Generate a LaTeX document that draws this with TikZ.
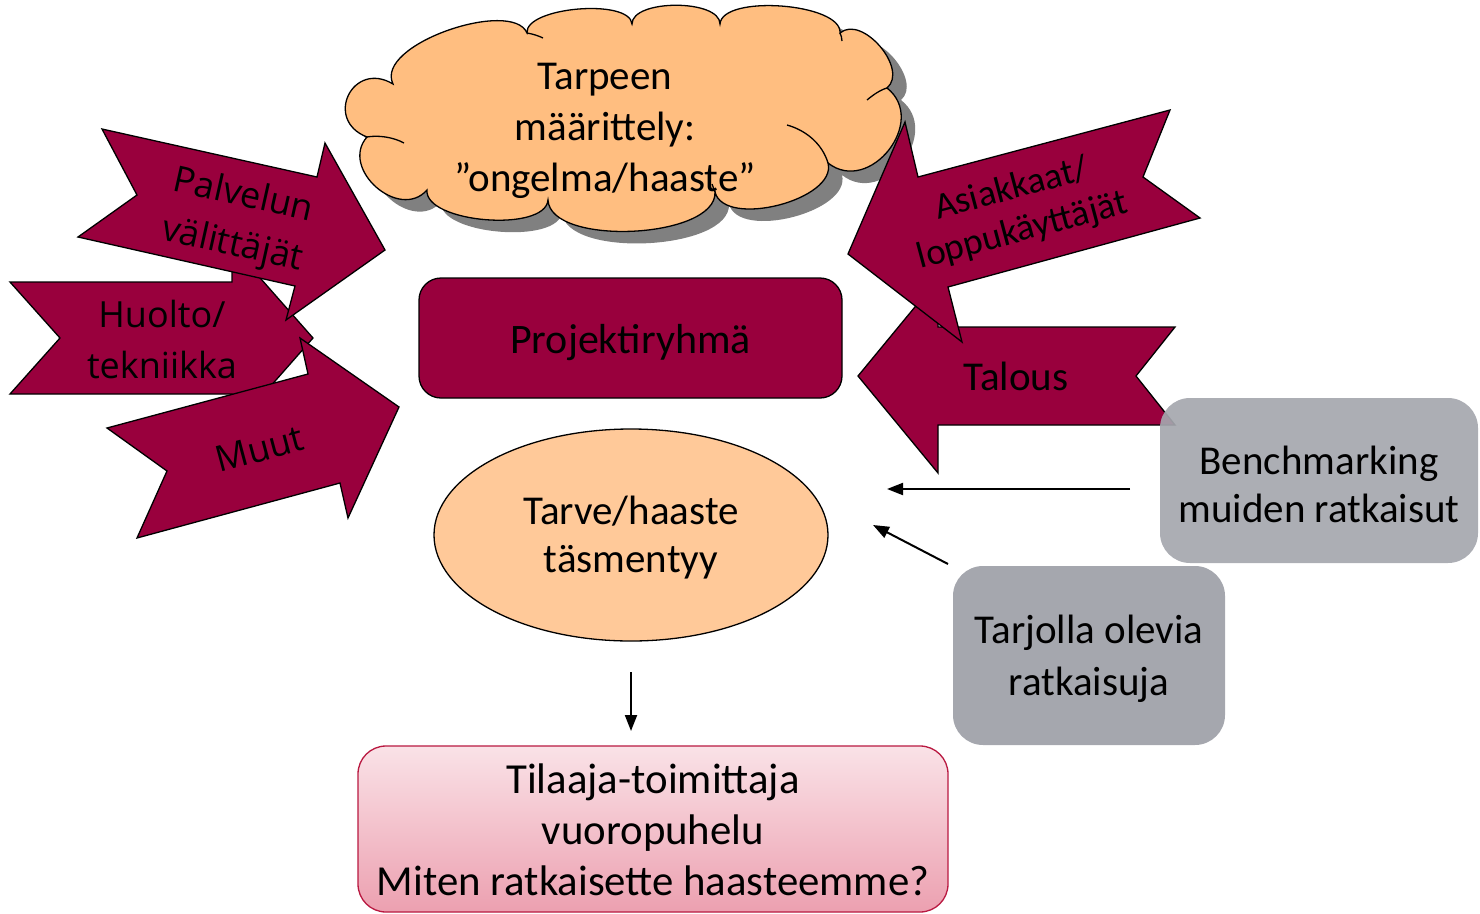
\documentclass[tikz,border=0pt]{standalone}
\usepackage{fontspec}
\setmainfont{Carlito}
\newfontfamily\osans{Open Sans}
\usetikzlibrary{shapes.geometric,arrows.meta,calc}
\definecolor{crim}{RGB}{153,0,61}
\definecolor{cloudfill}{RGB}{255,190,128}
\definecolor{ellfill}{RGB}{255,201,153}
\definecolor{graybox}{RGB}{165,167,174}
\definecolor{shadowgray}{RGB}{128,128,128}
\definecolor{pinktop}{RGB}{250,226,231}
\definecolor{pinkbot}{RGB}{236,160,176}
\definecolor{pinkborder}{RGB}{185,25,65}
% text whose first baseline sits at the node centre, raised by #1
\newcommand\bltext[2]{\raisebox{#1}[0pt][0pt]{\begin{tabular}[t]{@{}c@{}}#2\end{tabular}}}
\begin{document}
\begin{tikzpicture}[x=1pt,y=-1pt,
  arrowshape/.style={fill=crim,draw=black,line width=1.3pt,line join=miter},
  lbl/.style={font=\osans\fontsize{36}{50}\selectfont,inner sep=0pt,text=black},
  rlbl/.style={font=\fontsize{37}{43}\selectfont,inner sep=0pt,text=black},
  big/.style={font=\fontsize{41}{51}\selectfont,inner sep=0pt,text=black},
  gbox/.style={fill=graybox,rounded corners=30pt,inner sep=0pt},
  conn/.style={draw=black,line width=2pt,-{Triangle[length=16pt,width=12pt]}},
  cloudline/.style={draw=black,line width=1.3pt}]
\useasboundingbox (0,0) rectangle (1480,913);

% cloud
\coordinate (J1) at (393,84);
\coordinate (J2) at (527,33);
\coordinate (J3) at (632,24);
\coordinate (J4) at (720,24);
\coordinate (J5) at (840,33);
\coordinate (J6) at (887,88);
\coordinate (J7) at (828,163);
\coordinate (J8) at (715,192);
\coordinate (J9) at (548,200);
\coordinate (J10) at (427,190);
\coordinate (J11) at (367,137);
\path[cloudline,fill=cloudfill,
  preaction={fill=shadowgray,transform canvas={shift={(14pt,-12pt)}}}]
  (J1) .. controls ($(J1)!44pt!95:(J2)$) and ($(J2)!38pt!-88:(J1)$) .. (J2)
       .. controls ($(J2)!26pt!90:(J3)$) and ($(J3)!26pt!-90:(J2)$) .. (J3)
       .. controls ($(J3)!25pt!90:(J4)$) and ($(J4)!25pt!-90:(J3)$) .. (J4)
       .. controls ($(J4)!30pt!90:(J5)$) and ($(J5)!30pt!-90:(J4)$) .. (J5)
       .. controls ($(J5)!29pt!90:(J6)$) and ($(J6)!29pt!-90:(J5)$) .. (J6)
       .. controls ($(J6)!53pt!90:(J7)$) and ($(J7)!53pt!-90:(J6)$) .. (J7)
       .. controls ($(J7)!38pt!90:(J8)$) and ($(J8)!38pt!-90:(J7)$) .. (J8)
       .. controls ($(J8)!47pt!90:(J9)$) and ($(J9)!47pt!-90:(J8)$) .. (J9)
       .. controls ($(J9)!33pt!90:(J10)$) and ($(J10)!33pt!-90:(J9)$) .. (J10)
       .. controls ($(J10)!42pt!90:(J11)$) and ($(J11)!42pt!-90:(J10)$) .. (J11)
       .. controls ($(J11)!47pt!95:(J1)$) and ($(J1)!47pt!-95:(J11)$) .. (J1) -- cycle;
\draw[cloudline] (J11) .. controls (378,135) and (393,137) .. (404,143);
\draw[cloudline] (J2) .. controls (533,34) and (539,36) .. (543,38);
\draw[cloudline] (J5) .. controls (841,35) and (842,38) .. (842,41);
\draw[cloudline] (J6) .. controls (880,90) and (873,95) .. (867,100);
\draw[cloudline] (787,125) .. controls (805,130) and (822,143) .. (J7);
\draw[cloudline] (J8) .. controls (714,189) and (713,187) .. (712,184);
\node[big,font=\fontsize{41}{51}\selectfont] (cloudtxt) at (605,89) {\bltext{0pt}{Tarpeen\\määrittely:\\”ongelma/haaste”}};

% left arrows
\path[arrowshape] (10,282) -- (232,282) -- (232,246) -- (313,338) -- (232,430) -- (232,394) -- (10,394) -- (60,338) -- cycle;
\node[lbl,font=\osans\fontsize{36}{51}\selectfont] (huolto) at (162,327) {\bltext{0pt}{Huolto/\\tekniikka}};
\path[arrowshape] (102,129) -- (317,177) -- (325,143) -- (385,250) -- (286,320) -- (295,286) -- (78,237) -- (137,195) -- cycle;
\node[lbl,rotate=-12.6] (palvelun) at (241,206) {\bltext{0pt}{Palvelun\\välittäjät}};
\path[arrowshape] (107,428) -- (308,374) -- (300,338) -- (399,407) -- (348,518) -- (340,483) -- (137,538) -- (167,471) -- cycle;
\node[lbl,rotate=15] (muut) at (263,461) {\bltext{0pt}{Muut}};

% right arrows
\path[arrowshape] (1175,327) -- (938,327) -- (938,279) -- (858,376) -- (938,473) -- (938,425) -- (1175,425) -- (1136,376) -- cycle;
\node[big] (talous) at (1016,390) {\bltext{0pt}{Talous}};
\path[arrowshape] (1170,110) -- (918,177) -- (905,122) -- (848,254) -- (962,342) -- (948,287) -- (1200,218) -- (1143,177) -- cycle;
\node[rlbl,rotate=15] (asiakkaat) at (1014,199) {\bltext{0pt}{Asiakkaat/\\loppukäyttäjät}};

% central nodes
\node[big,font=\fontsize{42}{51}\selectfont,fill=crim,draw=black,line width=1.3pt,rounded corners=22pt,minimum width=423pt,minimum height=120pt] (proj) at (630.5,338) {\bltext{-15pt}{Projektiryhmä}};
\node[big,font=\fontsize{41}{48}\selectfont,ellipse,fill=ellfill,draw=black,line width=1.3pt,minimum width=394pt,minimum height=212pt] (tarve) at (631,535) {\bltext{11pt}{Tarve/haaste\\täsmentyy}};

% gray boxes
\node[gbox,big,font=\fontsize{41}{48}\selectfont,fill opacity=0.92,text opacity=1,minimum width=318pt,minimum height=165pt] (bench) at (1319,480.5) {\bltext{6.5pt}{Benchmarking\\muiden ratkaisut}};
\node[gbox,big,font=\fontsize{41}{52}\selectfont,minimum width=272pt,minimum height=179pt] (tarj) at (1089,655.5) {\bltext{12.5pt}{Tarjolla olevia\\ratkaisuja}};

% bottom box
\node[big,font=\fontsize{42.8}{51}\selectfont,top color=pinktop,bottom color=pinkbot,draw=pinkborder,line width=1.3pt,rounded corners=28pt,minimum width=590pt,minimum height=166pt] (dialog) at (653,829) {\bltext{36pt}{Tilaaja-toimittaja\\vuoropuhelu\\Miten ratkaisette haasteemme?}};

% connectors
\coordinate (bA) at (1130,489);
\coordinate (bB) at (887,489);
\coordinate (tA) at (948,564);
\coordinate (tB) at (873,525);
\coordinate (dA) at (631,672);
\coordinate (dB) at (631,731);
\draw[conn] (bA) -- (bB);
\draw[conn] (tA) -- (tB);
\draw[conn] (dA) -- (dB);
\end{tikzpicture}
\end{document}
